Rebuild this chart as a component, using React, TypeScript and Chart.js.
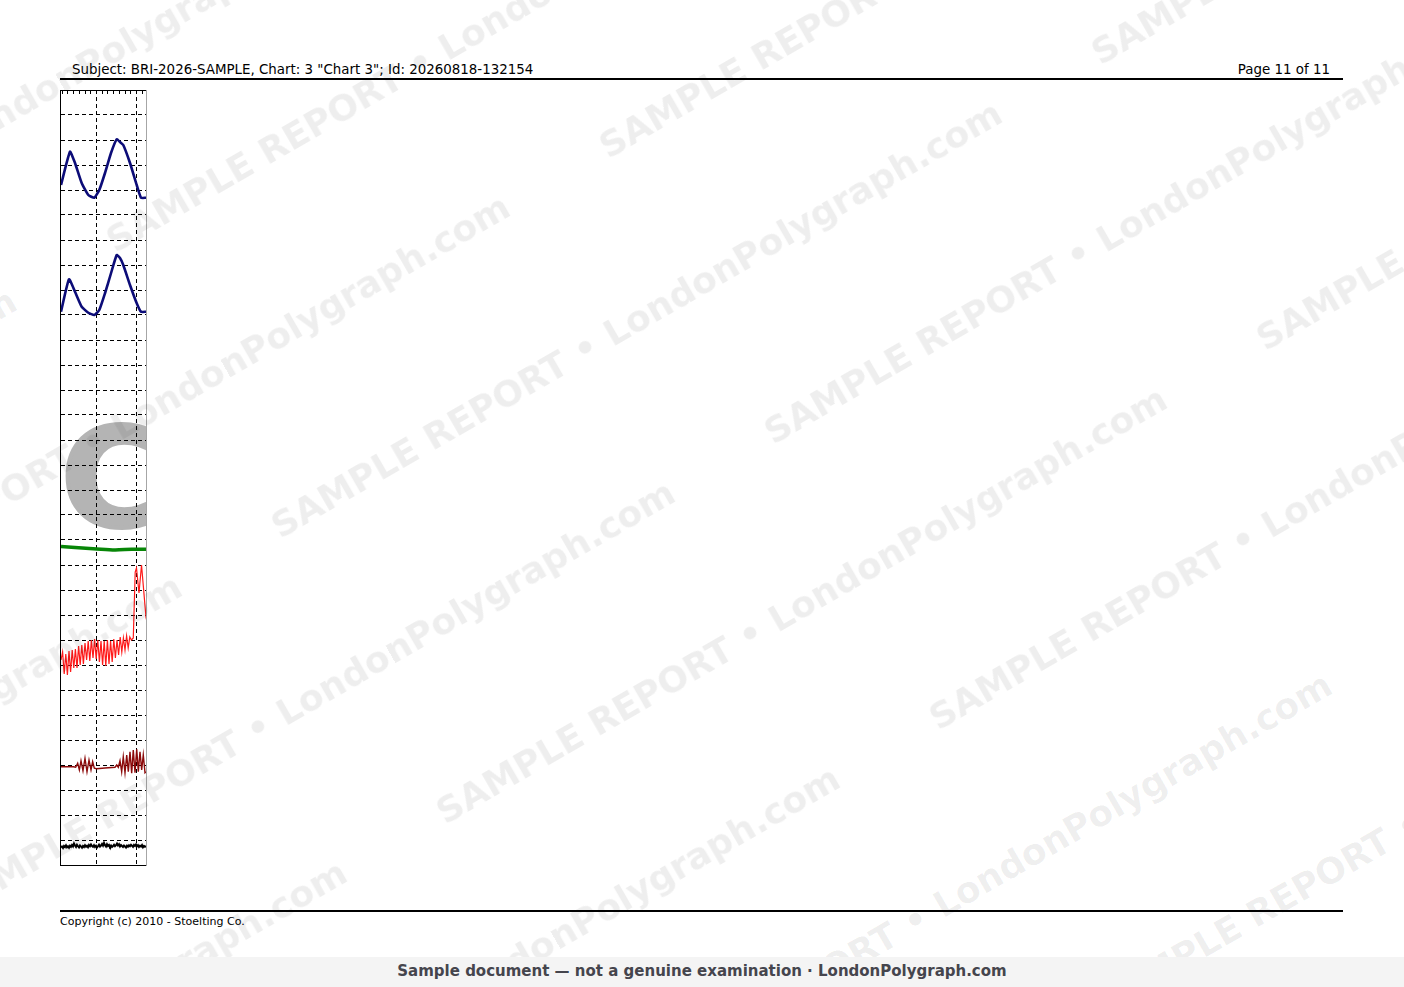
import React, { useEffect, useRef } from "react";
import { Chart, registerables } from "chart.js";

Chart.register(...registerables);

// ---- Time axis (seconds) and level axis (chart divisions) ----
const timeMin = -4.375;
const timeMax = 6.25;
const majorStep = 5;
const minorStep = 5 / 7;
const levelMin = 0;
const levelMax = 31;

// ---- Upper pneumo ----
const upperPneumoTime = [-4.375, -3.25, -2.625, -1.79, -0.96, -0.21, 0.41, 1.125, 1.875, 2.59, 3.0, 3.41, 4.25, 5.09, 5.625, 6.25];
const upperPneumoValues = [27.2, 28.53, 28.08, 27.28, 26.8, 26.69, 27.0, 27.68, 28.48, 29.03, 28.92, 28.8, 28.08, 27.2, 26.69, 26.69];

// ---- Lower pneumo ----
const lowerPneumoTime = [-4.375, -3.375, -2.625, -1.79, -0.96, -0.21, 0.41, 1.125, 1.875, 2.59, 3.0, 3.41, 4.25, 5.09, 5.625, 6.25];
const lowerPneumoValues = [22.13, 23.43, 22.93, 22.33, 22.09, 22.0, 22.2, 22.87, 23.67, 24.4, 24.28, 24.0, 23.2, 22.47, 22.13, 22.13];

// ---- Electrodermal ----
const edaTime = [-4.375, -2.625, 0.09, 2.375, 4.46, 6.25];
const edaValues = [12.74, 12.7, 12.64, 12.6, 12.63, 12.63];

// ---- Cardio ----
const cardioTime = [
  -4.375, -4.175, -3.975, -3.775, -3.575, -3.375, -3.175, -2.975, -2.775, -2.575,
  -2.375, -2.175, -1.975, -1.775, -1.575, -1.375, -1.175, -0.975, -0.775, -0.575,
  -0.375, -0.175, 0.025, 0.225, 0.425, 0.625, 0.825, 1.025, 1.225, 1.425,
  1.625, 1.825, 2.025, 2.225, 2.425, 2.625, 2.825, 3.025, 3.225, 3.425,
  3.625, 3.825, 4.025, 4.225, 4.425, 4.66, 4.9, 5.06, 5.375, 5.69, 6.225, 6.25,
];
const cardioValues = [
  8.2, 8.52, 7.64, 8.44, 7.6, 8.56, 7.72, 8.6, 7.88, 8.64,
  7.88, 8.76, 8.0, 8.8, 8.04, 8.88, 8.2, 8.96, 8.16, 9.0,
  8.28, 9.04, 8.24, 9.0, 8.12, 8.96, 8.0, 8.96, 7.96, 9.0,
  8.04, 8.96, 8.12, 9.04, 8.28, 9.0, 8.4, 9.12, 8.52, 9.08,
  8.6, 9.16, 8.68, 9.12, 9.0, 9.08, 11.72, 11.88, 10.88, 12.0, 10.0, 10.05,
];

// ---- Movement ----
const movementTime = [
  -4.375, -2.83, -2.54, -2.29, -2.08, -1.875, -1.625, -1.375, -1.125, -0.875,
  -0.625, -0.42, -0.21, 0.08, 1.125, 2.375, 2.59, 2.79, 3.0, 3.21,
  3.41, 3.625, 3.84, 4.04, 4.25, 4.46, 4.66, 4.875, 5.09, 5.29,
  5.5, 5.71, 5.91, 6.125, 6.25,
];
const movementValues = [
  3.93, 3.93, 3.91, 4.07, 3.8, 4.17, 3.77, 4.27, 3.73, 4.2,
  3.8, 4.13, 3.87, 3.85, 3.88, 3.91, 4.0, 3.91, 4.17, 3.73,
  4.33, 3.69, 4.4, 3.73, 4.53, 3.67, 4.6, 3.69, 4.63, 3.73,
  4.53, 3.8, 4.4, 3.69, 3.73,
];

// ---- Activity sensor (sampled every 0.125 s from the left edge) ----
const activityStart = -4.375;
const activityInterval = 0.125;
const activityValues = [
  0.7, 0.74, 0.68, 0.76, 0.72, 0.79, 0.71, 0.75, 0.69, 0.77,
  0.73, 0.8, 0.74, 0.86, 0.78, 0.72, 0.81, 0.75, 0.7, 0.78,
  0.74, 0.69, 0.76, 0.72, 0.79, 0.73, 0.77, 0.71, 0.8, 0.75,
  0.82, 0.76, 0.73, 0.79, 0.72, 0.77, 0.7, 0.75, 0.81, 0.74,
  0.78, 0.84, 0.77, 0.88, 0.79, 0.74, 0.83, 0.76, 0.8, 0.73,
  0.78, 0.72, 0.76, 0.81, 0.75, 0.79, 0.86, 0.78, 0.83, 0.74,
  0.8, 0.76, 0.72, 0.78, 0.74, 0.7, 0.77, 0.73, 0.79, 0.75,
  0.81, 0.77, 0.73, 0.8, 0.76, 0.82, 0.75, 0.79, 0.72, 0.77,
  0.74, 0.8, 0.71, 0.76, 0.73, 0.75,
];

// ---- Question label ----
const questionLabel = "C";
const questionLabelTime = -4.4;
const questionLabelLevel = 13.55;

// ---- Page texts ----
const headerLeft = 'Subject: BRI-2026-SAMPLE, Chart: 3 "Chart 3"; Id: 20260818-132154';
const headerRight = "Page 11 of 11";
const footerText = "Copyright (c) 2010 - Stoelting Co.";
const bannerText = "Sample document \u2014 not a genuine examination \u00b7 LondonPolygraph.com";
const watermarkText = "SAMPLE REPORT \u2022 LondonPolygraph.com";

const FONT = '"DejaVu Sans", Verdana, sans-serif';

function pts(t: number[], v: number[]) {
  return v.map((y, i) => ({ x: t[i], y }));
}

const framePlugin = {
  id: "frame",
  beforeDraw(chart: any) {
    const { ctx, chartArea, scales } = chart;
    const { left, top, right, bottom } = chartArea;
    ctx.save();
    ctx.beginPath();
    ctx.rect(left, top, right - left, bottom - top);
    ctx.clip();
    ctx.fillStyle = "#b4b4b4";
    ctx.strokeStyle = "#b4b4b4";
    ctx.lineWidth = 4;
    ctx.lineJoin = "round";
    ctx.font = `bold 138px ${FONT}`;
    ctx.textAlign = "left";
    ctx.textBaseline = "alphabetic";
    const x = scales.x.getPixelForValue(questionLabelTime);
    const y = scales.y.getPixelForValue(questionLabelLevel);
    ctx.fillText(questionLabel, x, y);
    ctx.strokeText(questionLabel, x, y);
    ctx.restore();
  },
  afterDraw(chart: any) {
    const { ctx, chartArea, scales } = chart;
    const { left, top, right, bottom } = chartArea;
    ctx.save();
    ctx.lineWidth = 1;
    ctx.strokeStyle = "#000";
    ctx.beginPath();
    ctx.moveTo(left - 0.5, top + 0.5);
    ctx.lineTo(right + 0.5, top + 0.5);
    ctx.moveTo(left - 0.5, bottom + 0.5);
    ctx.lineTo(right + 0.5, bottom + 0.5);
    ctx.moveTo(left - 0.5, top);
    ctx.lineTo(left - 0.5, bottom + 1);
    // minor ticks along the top edge
    const sx = scales.x;
    const first = Math.ceil(sx.min / minorStep) * minorStep;
    for (let v = first; v <= sx.max + 1e-9; v += minorStep) {
      const px = Math.round(sx.getPixelForValue(v)) + 0.5;
      if (px <= left + 1 || px >= right - 1) continue;
      ctx.moveTo(px, top);
      ctx.lineTo(px, top + 4);
    }
    ctx.stroke();
    ctx.strokeStyle = "#a6a6a6";
    ctx.beginPath();
    ctx.moveTo(right + 0.5, top);
    ctx.lineTo(right + 0.5, bottom + 1);
    ctx.stroke();
    ctx.restore();
  },
};

function Watermark() {
  const rows: number[] = [];
  for (let k = -4; k <= 6; k++) rows.push(k);
  const reps = [-2, -1, 0, 1, 2];
  const period = 947;
  const rowGap = 165;
  return (
    <div
      style={{
        position: "absolute",
        left: 0,
        top: 0,
        width: 0,
        height: 0,
        transform: "rotate(-30deg)",
        transformOrigin: "0 0",
        pointerEvents: "none",
      }}
    >
      {rows.map((k) =>
        reps.map((n) => {
          const v = 606 + k * rowGap;
          const u = (Math.abs(k) % 2 === 0 ? -27 : 447) + n * period;
          return (
            <div
              key={`${k}_${n}`}
              style={{
                position: "absolute",
                left: u,
                top: v - 29,
                whiteSpace: "nowrap",
                font: `bold 36px ${FONT}`,
                lineHeight: "36px",
                color: "rgba(0,0,0,0.065)",
              }}
            >
              {watermarkText}
            </div>
          );
        })
      )}
    </div>
  );
}

export default function App() {
  const canvasRef = useRef<HTMLCanvasElement>(null);

  useEffect(() => {
    const canvas = canvasRef.current;
    if (!canvas) return;
    const line = (data: any[], color: string, width: number, tension = 0) => ({
      data,
      borderColor: color,
      borderWidth: width,
      pointRadius: 0,
      tension,
      fill: false,
    });
    const activityData = activityValues.map((y, i) => ({ x: activityStart + i * activityInterval, y }));
    const chart = new Chart(canvas, {
      type: "line",
      data: {
        datasets: [
          line(pts(upperPneumoTime, upperPneumoValues), "#0c0c78", 2.6, 0.15),
          line(pts(lowerPneumoTime, lowerPneumoValues), "#0c0c78", 2.6, 0.15),
          line(pts(edaTime, edaValues), "#078607", 3.5, 0.3),
          line(pts(cardioTime, cardioValues), "#ff1a1a", 1.2),
          line(pts(movementTime, movementValues), "#8c0a0a", 1.4),
          line(activityData, "#000000", 2),
        ],
      },
      options: {
        animation: false,
        responsive: true,
        maintainAspectRatio: false,
        layout: { padding: { left: 10, right: 10, top: 10, bottom: 10 } },
        plugins: { legend: { display: false }, tooltip: { enabled: false }, title: { display: false } },
        scales: {
          x: {
            type: "linear",
            min: timeMin,
            max: timeMax,
            ticks: { display: false, stepSize: majorStep, includeBounds: false },
            grid: { color: "#000", lineWidth: 1, drawTicks: false },
            border: { display: false, dash: [4, 3] },
          },
          y: {
            type: "linear",
            min: levelMin,
            max: levelMax,
            ticks: { display: false, stepSize: 1, includeBounds: false },
            grid: { color: "#000", lineWidth: 1, drawTicks: false },
            border: { display: false, dash: [4, 3] },
          },
        },
      },
      plugins: [framePlugin],
    });
    return () => chart.destroy();
  }, []);

  return (
    <div
      style={{
        position: "absolute",
        left: 0,
        top: 0,
        width: 1404,
        height: 987,
        overflow: "hidden",
        background: "#fff",
        fontFamily: FONT,
      }}
    >
      <div
        style={{
          position: "absolute",
          left: 72,
          top: 63,
          font: `13.4px ${FONT}`,
          lineHeight: "13.4px",
          color: "#000",
          whiteSpace: "nowrap",
        }}
      >
        {headerLeft}
      </div>
      <div
        style={{
          position: "absolute",
          left: 1130,
          width: 200,
          textAlign: "right",
          top: 63,
          font: `13.4px ${FONT}`,
          lineHeight: "13.4px",
          color: "#000",
          whiteSpace: "nowrap",
        }}
      >
        {headerRight}
      </div>
      <div style={{ position: "absolute", left: 60, top: 78, width: 1283, height: 2, background: "#000" }} />

      <div style={{ position: "absolute", left: 51, top: 80, width: 105, height: 795 }}>
        <canvas ref={canvasRef} />
      </div>

      <div style={{ position: "absolute", left: 60, top: 910, width: 1283, height: 2, background: "#000" }} />
      <div
        style={{
          position: "absolute",
          left: 60,
          top: 916,
          font: `11px ${FONT}`,
          lineHeight: "11px",
          color: "#000",
          whiteSpace: "nowrap",
        }}
      >
        {footerText}
      </div>

      <Watermark />

      <div
        style={{
          position: "absolute",
          left: 0,
          top: 957,
          width: 1404,
          height: 30,
          background: "#f4f4f4",
          textAlign: "center",
          font: `bold 15px ${FONT}`,
          lineHeight: "28px",
          color: "#45454d",
          whiteSpace: "nowrap",
        }}
      >
        {bannerText}
      </div>
    </div>
  );
}
